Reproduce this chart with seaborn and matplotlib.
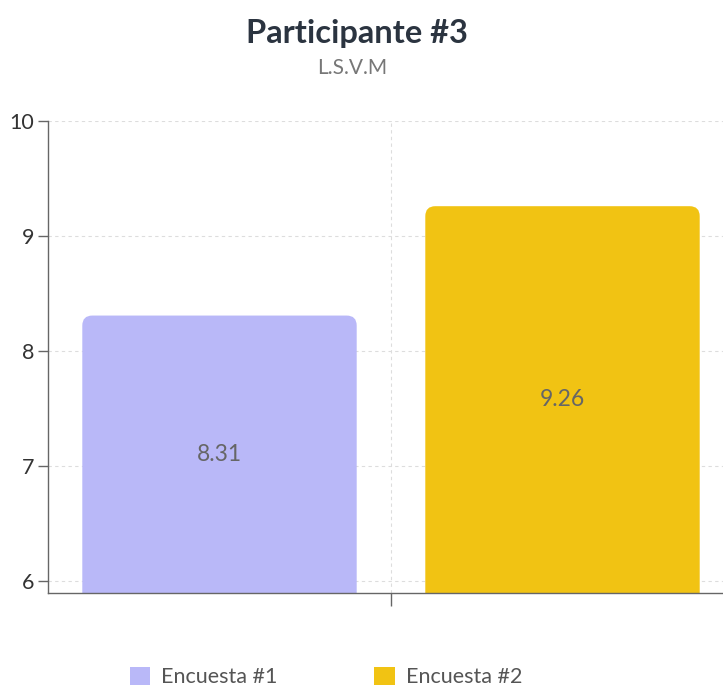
import matplotlib
matplotlib.use("Agg")
import matplotlib.pyplot as plt
import seaborn as sns
import pandas as pd
from matplotlib.patches import FancyBboxPatch, Patch

# ---- data ----
categories = [""]
series = ["Encuesta #1", "Encuesta #2"]
values = [8.31, 9.26]
colors = ["#b9b8f8", "#f1c313"]
title = "Participante #3"
subtitle = "L.S.V.M"
yticks = [6, 7, 8, 9, 10]

df = pd.DataFrame({"cat": categories * len(series), "serie": series, "valor": values})

sns.set_style("white")
plt.rcParams["font.family"] = ["Lato", "DejaVu Sans"]

fig = plt.figure(figsize=(7.23, 6.89), dpi=100)
W, H = 723, 689
ax = fig.add_axes([48 / W, 1 - 593 / H, 686 / W, (593 - 121) / H])

sns.barplot(data=df, x="cat", y="valor", hue="serie", palette=colors,
            width=1.0, gap=0.2, ax=ax, legend=False, saturation=1)

ax.set_ylim(5.9, 10)
ax.set_xlim(-0.5, 0.5)
ax.set_yticks(yticks)
ax.set_xticks([0])
ax.set_xticklabels([""])
ax.set_xlabel("")
ax.set_ylabel("")

# rounded top corners
px_x = 686.0  # px per x unit
px_y = 472.0 / 4.1
r_px = 10
for p in list(ax.patches):
    x, y = p.get_x(), p.get_y()
    w, h = p.get_width(), p.get_height()
    fc = p.get_facecolor()
    p.remove()
    fb = FancyBboxPatch((x, y), w, h,
                        boxstyle=f"round,pad=0,rounding_size={r_px / px_x}",
                        mutation_aspect=(r_px / px_y) / (r_px / px_x),
                        facecolor=fc, edgecolor="none", zorder=2)
    ax.add_patch(fb)
    ymin = ax.get_ylim()[0]
    ax.text(x + w / 2, (ymin + y + h) / 2, f"{y + h:.2f}", ha="center", va="center",
            fontsize=16.5, color="#666666", zorder=3)

# grid
ax.grid(True, axis="both", linestyle=(0, (3, 3)), color="#dddddd", linewidth=0.8)
ax.set_axisbelow(True)

for s in ["top", "right"]:
    ax.spines[s].set_visible(False)
for s in ["left", "bottom"]:
    ax.spines[s].set_color("#666666")
    ax.spines[s].set_linewidth(1.0)

ax.tick_params(axis="y", left=True, length=7, width=1, color="#666666",
               labelsize=15.5, labelcolor="#333333", pad=3)
ax.tick_params(axis="x", bottom=True, length=9, width=1, color="#666666")

fig.text(357 / W, 1 - 33 / H, title, ha="center", va="center",
         fontsize=23.5, fontweight="bold", color="#2b3440")
fig.text(352 / W, 1 - 68 / H, subtitle, ha="center", va="center",
         fontsize=15, color="#777777")

handles = [Patch(facecolor=c, edgecolor="none", label=s) for c, s in zip(colors, series)]
fig.legend(handles=handles, loc="center", bbox_to_anchor=(326 / W, 1 - 677 / H),
           ncol=2, frameon=False, fontsize=15.5, labelcolor="#555555",
           handlelength=0.95, handleheight=0.95, handletextpad=0.5, columnspacing=4.5)

fig.savefig("out.png", dpi=100)
